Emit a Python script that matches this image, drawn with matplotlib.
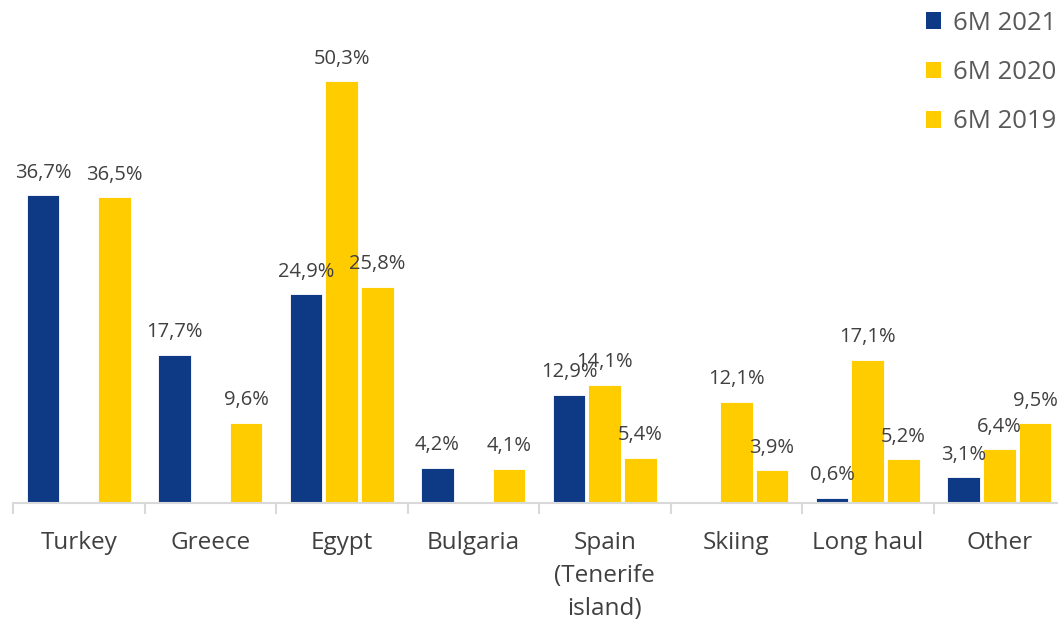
import numpy as np
import matplotlib.pyplot as plt
from matplotlib.patches import Patch

plt.rcParams['font.family'] = ['Open Sans', 'DejaVu Sans']

# Data (share of tourists by destination, %)
categories = ['Turkey', 'Greece', 'Egypt', 'Bulgaria', 'Spain\n(Tenerife\nisland)',
              'Skiing', 'Long haul', 'Other']
series_names = ['6M 2021', '6M 2020', '6M 2019']
values_2021 = [36.7, 17.7, 24.9, 4.2, 12.9, None, 0.6, 3.1]
values_2020 = [None, None, 50.3, None, 14.1, 12.1, 17.1, 6.4]
values_2019 = [36.5, 9.6, 25.8, 4.1, 5.4, 3.9, 5.2, 9.5]

colors = ['#0E3A85', '#FFCC00', '#FFCC00']

fig = plt.figure(figsize=(10.58, 6.24), dpi=100)
ax = fig.add_axes([13 / 1058, 1 - 503 / 624, 1052 / 1058, 503 / 624])

x = np.arange(len(categories))
width = 0.25
offsets = [-0.272, 0.0, 0.272]

for vals, off, col in zip([values_2021, values_2020, values_2019], offsets, colors):
    for xi, v in zip(x, vals):
        if v is None:
            continue
        ax.bar(xi + off, v, width=width, color=col, edgecolor='white', linewidth=0.6)
        ax.annotate(f'{v:.1f}%'.replace('.', ','), (xi + off, v),
                    xytext=(0, 9), textcoords='offset points',
                    ha='center', va='bottom', fontsize=14.5, color='#404040')

ax.set_xlim(-0.5, len(categories) - 0.5)
ax.set_ylim(0, 60)
ax.set_yticks([])

for side in ['top', 'right', 'left']:
    ax.spines[side].set_visible(False)
ax.spines['bottom'].set_color('#D9D9D9')
ax.spines['bottom'].set_linewidth(1.5)

ax.set_xticks(x)
ax.set_xticklabels(categories, fontsize=17.5, color='#404040', linespacing=1.52)
ax.tick_params(axis='x', which='major', length=0, pad=20)
ax.set_xticks(np.arange(len(categories) + 1) - 0.5, minor=True)
ax.tick_params(axis='x', which='minor', length=8, width=1.5, color='#D9D9D9')

handles = [Patch(facecolor=c) for c in colors]
fig.legend(handles, series_names, loc='upper right', bbox_to_anchor=(1.02, 1.02),
           frameon=False, fontsize=18.5, labelcolor='#595959',
           handlelength=0.6, handleheight=0.6, handletextpad=0.45, labelspacing=0.95)

fig.savefig('out.png', dpi=100)
